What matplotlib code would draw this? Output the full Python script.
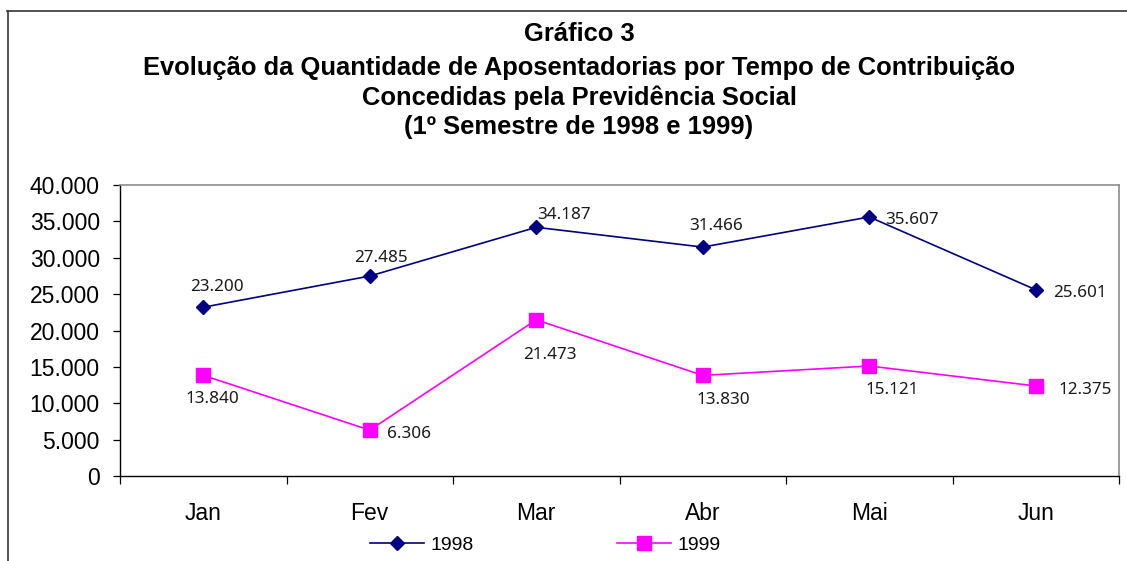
import matplotlib
matplotlib.use("Agg")
import matplotlib.pyplot as plt
from matplotlib.lines import Line2D
from matplotlib.ticker import FuncFormatter, FixedLocator

# ---- data ----
months = ["Jan", "Fev", "Mar", "Abr", "Mai", "Jun"]
serie_1998 = [23200, 27485, 34187, 31466, 35607, 25601]
serie_1999 = [13840, 6306, 21473, 13830, 15121, 12375]
series_names = ["1998", "1999"]
title_lines = [
    "Gráfico 3",
    "Evolução da Quantidade de Aposentadorias por Tempo de Contribuição",
    "Concedidas pela Previdência Social",
    "(1º Semestre de 1998 e 1999)",
]

# label placement (pixel offsets: dx, dy-up, horizontal alignment)
lab98 = [(14, 16.7, "center"), (11, 14.5, "center"), (28, 8.7, "center"),
         (13, 17.4, "center"), (16, -7.3, "left"), (17, -7, "left")]
lab99 = [(9, -27.7, "center"), (17, -8, "left"), (14, -39, "center"),
         (21, -28.3, "center"), (23, -28, "center"), (23, -8, "left")]

W, H = 1127, 561
fig = plt.figure(figsize=(W / 100, H / 100), dpi=100)
fig.patch.set_facecolor("white")

ax = fig.add_axes([120 / W, (H - 476) / H, 999 / W, 291 / H])

x = list(range(len(months)))
c98 = "#000080"
c99 = "#FF00FF"
ax.plot(x, serie_1998, color=c98, lw=1.2, marker="D", ms=6.8,
        mec=c98, mfc=c98, label=series_names[0], clip_on=False, zorder=3)
ax.plot(x, serie_1999, color=c99, lw=1.2, marker="s", ms=10,
        mec=c99, mfc=c99, label=series_names[1], clip_on=False, zorder=3)

def fmt(v):
    return f"{int(v):,}".replace(",", ".")

lab_font = dict(family="Noto Sans", size=12.3, color="#1a1a1a")
for xi, v, (dx, dy, ha) in zip(x, serie_1998, lab98):
    ax.annotate(fmt(v), (xi, v), xytext=(dx, dy), textcoords="offset pixels",
                ha=ha, va="baseline", **lab_font)
for xi, v, (dx, dy, ha) in zip(x, serie_1999, lab99):
    ax.annotate(fmt(v), (xi, v), xytext=(dx, dy), textcoords="offset pixels",
                ha=ha, va="baseline", **lab_font)

ax.set_xlim(-0.5, len(months) - 0.5)
ax.set_ylim(0, 40000)
ax.set_yticks(range(0, 40001, 5000))
ax.yaxis.set_major_formatter(FuncFormatter(lambda v, p: fmt(v)))
ax.set_xticks(x)
ax.set_xticklabels(months)
ax.xaxis.set_minor_locator(FixedLocator([i - 0.5 for i in range(len(months) + 1)]))

tick_font = "Liberation Sans"
ax.tick_params(axis="y", which="major", direction="out", length=5, width=0.9,
               pad=9.5, labelsize=16.5, color="black")
ax.tick_params(axis="x", which="major", length=0, pad=18.5, labelsize=16.5)
ax.tick_params(axis="x", which="minor", direction="out", length=5.5, width=0.9,
               color="black")
for lab in ax.get_xticklabels() + ax.get_yticklabels():
    lab.set_family(tick_font)
    lab.set_color("black")

for s in ["left", "bottom"]:
    ax.spines[s].set_color("black")
    ax.spines[s].set_linewidth(1.0)
for s in ["top", "right"]:
    ax.spines[s].set_color("#8c8c8c")
    ax.spines[s].set_linewidth(1.2)

# title
baselines = [41, 75, 105, 134]
for t, b in zip(title_lines, baselines):
    fig.text(579 / W, (H - b) / H, t, ha="center", va="baseline",
             family="Liberation Sans", weight="bold", size=18.4, color="black")

# legend
leg = fig.legend(loc="center left", bbox_to_anchor=(370 / W, (H - 545) / H),
                 ncol=2, frameon=False, prop=dict(family="Liberation Sans", size=14),
                 handlelength=2.78, handletextpad=0.31, columnspacing=7.4,
                 borderpad=0, borderaxespad=0, numpoints=1)

# outer chart border (top and left visible)
fig.add_artist(Line2D([7.5 / W, 7.5 / W], [0, (H - 11) / H], transform=fig.transFigure,
                      color="#333333", lw=1.2))
fig.add_artist(Line2D([7 / W, 1], [(H - 11) / H, (H - 11) / H], transform=fig.transFigure,
                      color="#333333", lw=1.2))

fig.savefig("out.png", dpi=100)
